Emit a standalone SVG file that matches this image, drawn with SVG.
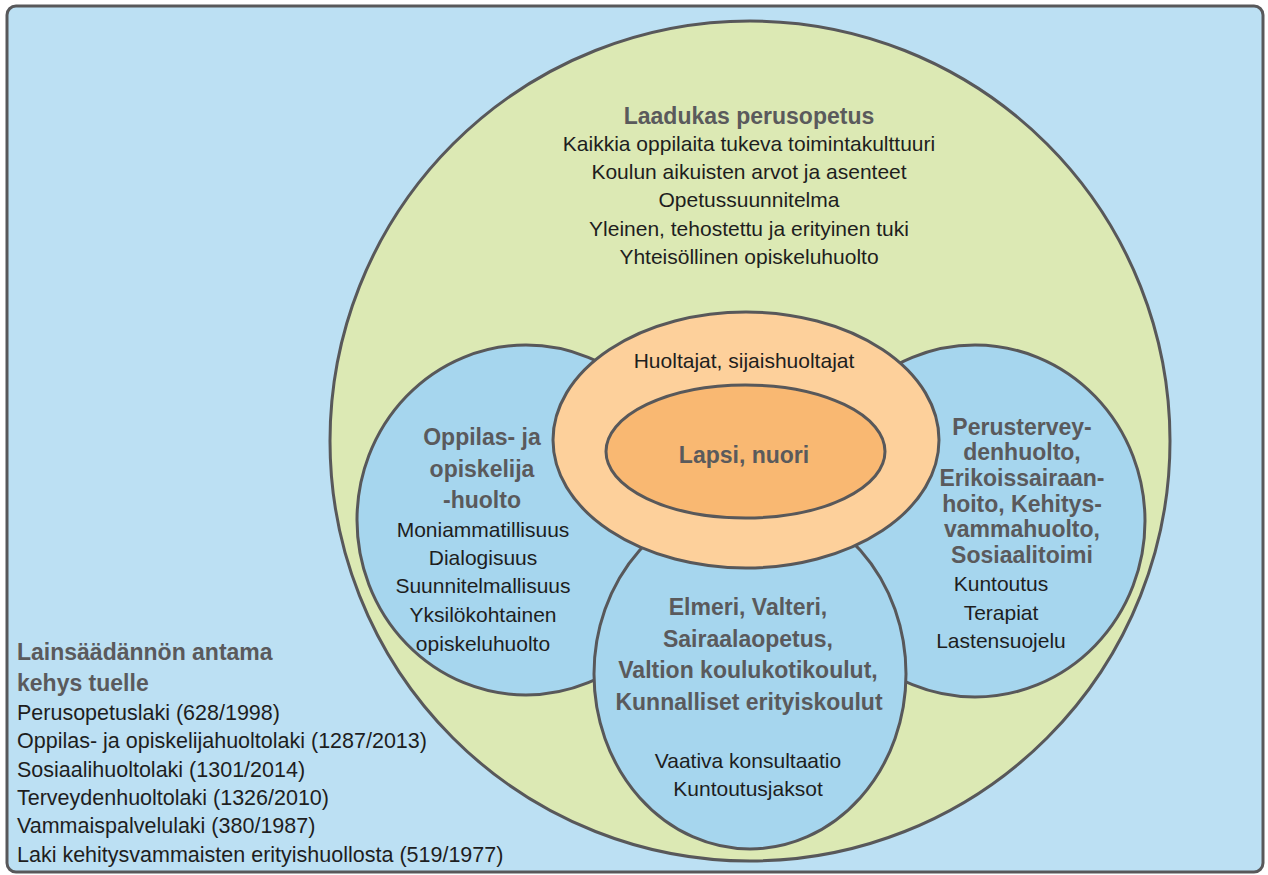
<svg xmlns="http://www.w3.org/2000/svg" width="1268" height="875" viewBox="0 0 1268 875">
<style>
.sh{stroke:#58585a;stroke-width:3}
.b{font-family:"Liberation Sans",Arial,sans-serif;font-weight:bold;font-size:23px;fill:#5a5a5c;text-anchor:middle}
.r{font-family:"Liberation Sans",Arial,sans-serif;font-size:21px;fill:#1e1e1e;text-anchor:middle}
.bl{font-family:"Liberation Sans",Arial,sans-serif;font-weight:bold;font-size:23px;fill:#5a5a5c}
.rl{font-family:"Liberation Sans",Arial,sans-serif;font-size:21.5px;fill:#1e1e1e}
</style>
<rect x="0" y="0" width="1268" height="875" fill="#ffffff"/>
<g id="frame">
<rect x="7" y="6" width="1256" height="866" rx="9" fill="#bce0f3" class="sh"/>
</g>
<g id="laadukas">
<circle cx="750" cy="441" r="420" fill="#dce9b4" class="sh"/>
<text class="b" x="749" y="124">Laadukas perusopetus</text>
<text class="r" x="749" y="151">Kaikkia oppilaita tukeva toimintakulttuuri</text>
<text class="r" x="749" y="179">Koulun aikuisten arvot ja asenteet</text>
<text class="r" x="749" y="207">Opetussuunnitelma</text>
<text class="r" x="749" y="236">Yleinen, tehostettu ja erityinen tuki</text>
<text class="r" x="749" y="264">Yhteisöllinen opiskeluhuolto</text>
</g>
<g id="oppilashuolto">
<ellipse cx="526" cy="520" rx="169" ry="175" fill="#a6d6ee" class="sh"/>
<text class="b" x="482" y="445">Oppilas- ja</text>
<text class="b" x="482" y="477">opiskelija</text>
<text class="b" x="482" y="508">-huolto</text>
<text class="r" x="483" y="537">Moniammatillisuus</text>
<text class="r" x="483" y="565">Dialogisuus</text>
<text class="r" x="483" y="593">Suunnitelmallisuus</text>
<text class="r" x="483" y="622">Yksilökohtainen</text>
<text class="r" x="483" y="651">opiskeluhuolto</text>
</g>
<g id="terveydenhuolto">
<ellipse cx="975" cy="521" rx="170" ry="176" fill="#a6d6ee" class="sh"/>
<text class="b" x="1022" y="435">Perustervey-</text>
<text class="b" x="1022" y="460">denhuolto,</text>
<text class="b" x="1022" y="486">Erikoissairaan-</text>
<text class="b" x="1022" y="512">hoito, Kehitys-</text>
<text class="b" x="1022" y="537">vammahuolto,</text>
<text class="b" x="1022" y="563">Sosiaalitoimi</text>
<text class="r" x="1001" y="591">Kuntoutus</text>
<text class="r" x="1001" y="620">Terapiat</text>
<text class="r" x="1001" y="648">Lastensuojelu</text>
</g>
<g id="erityiskoulut">
<ellipse cx="750" cy="674" rx="156" ry="175" fill="#a6d6ee" class="sh"/>
<text class="b" x="748" y="615">Elmeri, Valteri,</text>
<text class="b" x="748" y="647">Sairaalaopetus,</text>
<text class="b" x="748" y="678">Valtion koulukotikoulut,</text>
<text class="b" x="749" y="710">Kunnalliset erityiskoulut</text>
<text class="r" x="748" y="768">Vaativa konsultaatio</text>
<text class="r" x="748" y="796">Kuntoutusjaksot</text>
</g>
<g id="huoltajat">
<ellipse cx="746" cy="440" rx="193" ry="128" fill="#fdd09b" class="sh"/>
<text class="r" x="744" y="368">Huoltajat, sijaishuoltajat</text>
</g>
<g id="lapsi">
<ellipse cx="745.5" cy="451.5" rx="139.5" ry="66.5" fill="#f9b872" class="sh"/>
<text class="b" x="744" y="463">Lapsi, nuori</text>
</g>
<g id="lainsaadanto">
<text class="bl" x="17" y="660">Lainsäädännön antama</text>
<text class="bl" x="17" y="691">kehys tuelle</text>
<text class="rl" x="17" y="720">Perusopetuslaki (628/1998)</text>
<text class="rl" x="17" y="748">Oppilas- ja opiskelijahuoltolaki (1287/2013)</text>
<text class="rl" x="17" y="777">Sosiaalihuoltolaki (1301/2014)</text>
<text class="rl" x="17" y="805">Terveydenhuoltolaki (1326/2010)</text>
<text class="rl" x="17" y="833">Vammaispalvelulaki (380/1987)</text>
<text class="rl" x="17" y="862">Laki kehitysvammaisten erityishuollosta (519/1977)</text>
</g>
<g id="connectors"></g>
</svg>
